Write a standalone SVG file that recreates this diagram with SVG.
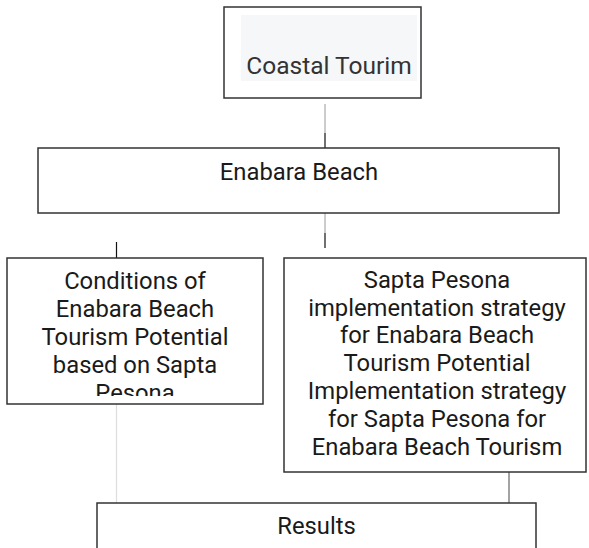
<svg xmlns="http://www.w3.org/2000/svg" width="589" height="548" viewBox="0 0 589 548">
<style>
.box{fill:#fff;stroke:#333;stroke-width:1.5}
.t{font-family:Roboto,"Liberation Sans",sans-serif;font-size:23.8px;fill:#1a1a1a;text-anchor:middle}
.c{fill:none;stroke-width:1.2}
</style>
<defs>
<clipPath id="clipL"><rect x="8" y="259" width="254" height="137"/></clipPath>
</defs>
<rect width="589" height="548" fill="#fff"/>
<g id="connectors">
<line class="c" x1="325" y1="104" x2="325" y2="133" stroke="#aaa"/>
<line class="c" x1="325" y1="133" x2="325" y2="148" stroke="#111"/>
<line class="c" x1="325" y1="213" x2="325" y2="233" stroke="#aaa"/>
<line class="c" x1="325" y1="233" x2="325" y2="248" stroke="#111"/>
<line class="c" x1="116.5" y1="242" x2="116.5" y2="258" stroke="#111"/>
<line class="c" x1="116.5" y1="404" x2="116.5" y2="503" stroke="#ddd"/>
<line class="c" x1="509" y1="472" x2="509" y2="503" stroke="#666"/>
</g>
<g id="coastal">
<rect class="box" x="224" y="7" width="197" height="91"/>
<rect x="241" y="15" width="176" height="66" fill="#f6f7f9"/>
<text class="t" x="329" y="74" style="fill:#333;font-size:24.5px">Coastal Tourim</text>
</g>
<g id="enabara">
<rect class="box" x="38" y="148" width="521" height="65"/>
<text class="t" x="299" y="180">Enabara Beach</text>
</g>
<g id="conditions">
<rect class="box" x="7" y="258" width="256" height="146"/>
<g clip-path="url(#clipL)">
<text class="t" x="135" y="289">Conditions of</text>
<text class="t" x="135" y="317">Enabara Beach</text>
<text class="t" x="135" y="345">Tourism Potential</text>
<text class="t" x="135" y="373">based on Sapta</text>
<text class="t" x="135" y="401">Pesona</text>
</g>
</g>
<g id="strategy">
<rect class="box" x="284" y="258" width="302" height="214"/>
<text class="t" x="437" y="288">Sapta Pesona</text>
<text class="t" x="437" y="316">implementation strategy</text>
<text class="t" x="437" y="343">for Enabara Beach</text>
<text class="t" x="437" y="371">Tourism Potential</text>
<text class="t" x="437" y="399">Implementation strategy</text>
<text class="t" x="437" y="427">for Sapta Pesona for</text>
<text class="t" x="437" y="455">Enabara Beach Tourism</text>
</g>
<g id="results">
<rect class="box" x="97" y="503" width="439" height="60"/>
<text class="t" x="316.5" y="534">Results</text>
</g>
</svg>
